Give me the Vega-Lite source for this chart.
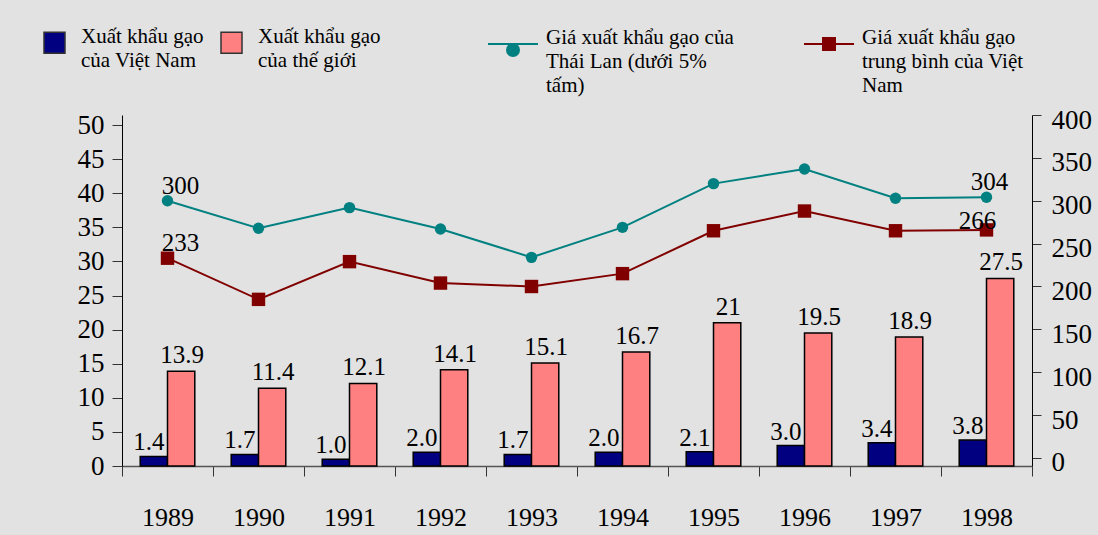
{
  "$schema": "https://vega.github.io/schema/vega-lite/v6.json",
  "width": 910,
  "height": 351,
  "autosize": {"type": "none"},
  "padding": {"left": 122, "top": 115, "right": 66, "bottom": 69},
  "background": "#e2e2e2",
  "config": {
    "view": {"stroke": null},
    "font": "Liberation Serif",
    "text": {"font": "Liberation Serif"}
  },
  "datasets": {
    "bars": [
      {"year": "1989", "series": "Xuất khẩu gạo\ncủa Việt Nam", "value": 1.4, "label": "1.4"},
      {"year": "1990", "series": "Xuất khẩu gạo\ncủa Việt Nam", "value": 1.7, "label": "1.7"},
      {"year": "1991", "series": "Xuất khẩu gạo\ncủa Việt Nam", "value": 1.0, "label": "1.0"},
      {"year": "1992", "series": "Xuất khẩu gạo\ncủa Việt Nam", "value": 2.0, "label": "2.0"},
      {"year": "1993", "series": "Xuất khẩu gạo\ncủa Việt Nam", "value": 1.7, "label": "1.7"},
      {"year": "1994", "series": "Xuất khẩu gạo\ncủa Việt Nam", "value": 2.0, "label": "2.0"},
      {"year": "1995", "series": "Xuất khẩu gạo\ncủa Việt Nam", "value": 2.1, "label": "2.1"},
      {"year": "1996", "series": "Xuất khẩu gạo\ncủa Việt Nam", "value": 3.0, "label": "3.0"},
      {"year": "1997", "series": "Xuất khẩu gạo\ncủa Việt Nam", "value": 3.4, "label": "3.4"},
      {"year": "1998", "series": "Xuất khẩu gạo\ncủa Việt Nam", "value": 3.8, "label": "3.8"},
      {"year": "1989", "series": "Xuất khẩu gạo\ncủa thế giới", "value": 13.9, "label": "13.9"},
      {"year": "1990", "series": "Xuất khẩu gạo\ncủa thế giới", "value": 11.4, "label": "11.4"},
      {"year": "1991", "series": "Xuất khẩu gạo\ncủa thế giới", "value": 12.1, "label": "12.1"},
      {"year": "1992", "series": "Xuất khẩu gạo\ncủa thế giới", "value": 14.1, "label": "14.1"},
      {"year": "1993", "series": "Xuất khẩu gạo\ncủa thế giới", "value": 15.1, "label": "15.1"},
      {"year": "1994", "series": "Xuất khẩu gạo\ncủa thế giới", "value": 16.7, "label": "16.7"},
      {"year": "1995", "series": "Xuất khẩu gạo\ncủa thế giới", "value": 21, "label": "21"},
      {"year": "1996", "series": "Xuất khẩu gạo\ncủa thế giới", "value": 19.5, "label": "19.5"},
      {"year": "1997", "series": "Xuất khẩu gạo\ncủa thế giới", "value": 18.9, "label": "18.9"},
      {"year": "1998", "series": "Xuất khẩu gạo\ncủa thế giới", "value": 27.5, "label": "27.5"}
    ],
    "lines": [
      {"year": "1989", "series": "Giá xuất khẩu gạo của\nThái Lan (dưới 5%\ntấm)", "price": 300},
      {"year": "1990", "series": "Giá xuất khẩu gạo của\nThái Lan (dưới 5%\ntấm)", "price": 268},
      {"year": "1991", "series": "Giá xuất khẩu gạo của\nThái Lan (dưới 5%\ntấm)", "price": 292},
      {"year": "1992", "series": "Giá xuất khẩu gạo của\nThái Lan (dưới 5%\ntấm)", "price": 267},
      {"year": "1993", "series": "Giá xuất khẩu gạo của\nThái Lan (dưới 5%\ntấm)", "price": 234},
      {"year": "1994", "series": "Giá xuất khẩu gạo của\nThái Lan (dưới 5%\ntấm)", "price": 269},
      {"year": "1995", "series": "Giá xuất khẩu gạo của\nThái Lan (dưới 5%\ntấm)", "price": 320},
      {"year": "1996", "series": "Giá xuất khẩu gạo của\nThái Lan (dưới 5%\ntấm)", "price": 337},
      {"year": "1997", "series": "Giá xuất khẩu gạo của\nThái Lan (dưới 5%\ntấm)", "price": 303},
      {"year": "1998", "series": "Giá xuất khẩu gạo của\nThái Lan (dưới 5%\ntấm)", "price": 304},
      {"year": "1989", "series": "Giá xuất khẩu gạo\ntrung bình của Việt\nNam", "price": 233},
      {"year": "1990", "series": "Giá xuất khẩu gạo\ntrung bình của Việt\nNam", "price": 185},
      {"year": "1991", "series": "Giá xuất khẩu gạo\ntrung bình của Việt\nNam", "price": 229},
      {"year": "1992", "series": "Giá xuất khẩu gạo\ntrung bình của Việt\nNam", "price": 204},
      {"year": "1993", "series": "Giá xuất khẩu gạo\ntrung bình của Việt\nNam", "price": 200},
      {"year": "1994", "series": "Giá xuất khẩu gạo\ntrung bình của Việt\nNam", "price": 215},
      {"year": "1995", "series": "Giá xuất khẩu gạo\ntrung bình của Việt\nNam", "price": 265},
      {"year": "1996", "series": "Giá xuất khẩu gạo\ntrung bình của Việt\nNam", "price": 288},
      {"year": "1997", "series": "Giá xuất khẩu gạo\ntrung bình của Việt\nNam", "price": 265},
      {"year": "1998", "series": "Giá xuất khẩu gạo\ntrung bình của Việt\nNam", "price": 266}
    ]
  },
  "encoding": {
    "x": {
      "field": "year",
      "type": "nominal",
      "scale": {"paddingInner": 0, "paddingOuter": 0},
      "axis": {
        "title": null,
        "labelAngle": 0,
        "labelFont": "Liberation Serif",
        "labelFontSize": 26,
        "labelColor": "#000000",
        "labelPadding": 28,
        "tickBand": "extent",
        "tickSize": 10,
        "tickColor": "#333333",
        "domainColor": "#555555",
        "domainWidth": 1.5
      }
    }
  },
  "layer": [
    {
      "data": {"name": "bars"},
      "encoding": {
        "xOffset": {
          "field": "series",
          "type": "nominal",
          "scale": {"domain": ["Xuất khẩu gạo\ncủa Việt Nam", "Xuất khẩu gạo\ncủa thế giới"], "paddingInner": 0, "paddingOuter": 0.667}
        },
        "y": {
          "field": "value",
          "type": "quantitative",
          "scale": {"domain": [0, 51.47], "nice": false, "zero": true},
          "axis": {
            "orient": "left",
            "title": null,
            "values": [0, 5, 10, 15, 20, 25, 30, 35, 40, 45, 50],
            "grid": false,
            "labelFont": "Liberation Serif",
            "labelFontSize": 27,
            "labelColor": "#000000",
            "labelPadding": 8,
            "tickSize": 10,
            "tickColor": "#333333",
            "domainColor": "#000000"
          }
        }
      },
      "layer": [
        {
          "mark": {"type": "bar", "stroke": "#000000", "strokeWidth": 1.5},
          "encoding": {
            "fill": {
              "field": "series",
              "type": "nominal",
              "scale": {"domain": ["Xuất khẩu gạo\ncủa Việt Nam", "Xuất khẩu gạo\ncủa thế giới"], "range": ["#000080", "#ff8080"]},
              "legend": {
                "title": null,
                "orient": "none",
                "legendX": -79,
                "legendY": -84,
                "direction": "horizontal",
                "columns": 2,
                "columnPadding": 14,
                "padding": 0,
                "symbolType": "square",
                "symbolSize": 441,
                "symbolStrokeColor": "#333333",
                "symbolStrokeWidth": 1.5,
                "labelOffset": 15,
                "labelFont": "Liberation Serif",
                "labelFontSize": 21,
                "labelColor": "#000000",
                "labelLimit": 400,
                "labelBaseline": "top",
                "labelExpr": "split(datum.label, '\\n')",
                "encode": {"labels": {"update": {"lineHeight": {"value": 24}, "dy": {"value": -17}}}}
              }
            }
          }
        },
        {
          "transform": [{"filter": "indexof(datum.series, 'Việt Nam') >= 0"}],
          "mark": {"type": "text", "font": "Liberation Serif", "fontSize": 25, "baseline": "alphabetic", "dx": -5, "dy": -6, "color": "#000000"},
          "encoding": {"text": {"field": "label"}}
        },
        {
          "transform": [{"filter": "indexof(datum.series, 'giới') >= 0"}],
          "mark": {"type": "text", "font": "Liberation Serif", "fontSize": 25, "baseline": "alphabetic", "dx": 1, "dy": -8, "color": "#000000"},
          "encoding": {"text": {"field": "label"}}
        }
      ]
    },
    {
      "data": {"name": "lines"},
      "encoding": {
        "y": {
          "field": "price",
          "type": "quantitative",
          "scale": {"domain": [-9.33, 400], "nice": false, "zero": false},
          "axis": {
            "orient": "right",
            "title": null,
            "values": [0, 50, 100, 150, 200, 250, 300, 350, 400],
            "grid": false,
            "labelFont": "Liberation Serif",
            "labelFontSize": 27,
            "labelColor": "#000000",
            "labelPadding": 10,
            "labelOffset": 5,
            "tickSize": 9,
            "tickColor": "#333333",
            "domainColor": "#000000"
          }
        }
      },
      "layer": [
        {
          "mark": {"type": "line", "strokeWidth": 2},
          "encoding": {
            "stroke": {
              "field": "series",
              "type": "nominal",
              "scale": {"domain": ["Giá xuất khẩu gạo của\nThái Lan (dưới 5%\ntấm)", "Giá xuất khẩu gạo\ntrung bình của Việt\nNam"], "range": ["#008080", "#800000"]},
              "legend": {
                "title": null,
                "orient": "none",
                "legendX": 365,
                "legendY": -97,
                "direction": "horizontal",
                "columns": 2,
                "columnPadding": 66,
                "padding": 0,
                "symbolSize": 2500,
                "symbolStrokeWidth": 2,
                "labelOffset": 7,
                "labelFont": "Liberation Serif",
                "labelFontSize": 21,
                "labelColor": "#000000",
                "labelLimit": 400,
                "labelBaseline": "top",
                "labelExpr": "split(datum.label, '\\n')",
                "encode": {
                  "symbols": {
                    "update": {
                      "shape": {"signal": "indexof(datum.value, 'Thái') >= 0 ? 'M-1,0H1M-0.24,0.24A0.24,0.24,0,1,0,0.24,0.24A0.24,0.24,0,1,0,-0.24,0.24Z' : 'M-1,0H1M-0.24,-0.24H0.24V0.24H-0.24Z'"},
                      "fill": {"signal": "indexof(datum.value, 'Thái') >= 0 ? '#008080' : '#800000'"},
                      "opacity": {"value": 1}
                    }
                  },
                  "labels": {"update": {"lineHeight": {"value": 24}, "dy": {"value": -17}}}
                }
              }
            }
          }
        },
        {
          "transform": [{"filter": "indexof(datum.series, 'Thái') >= 0"}],
          "mark": {"type": "point", "filled": true, "opacity": 1, "shape": "circle", "color": "#008080", "size": 130},
          "encoding": {}
        },
        {
          "transform": [{"filter": "indexof(datum.series, 'Việt') >= 0"}],
          "mark": {"type": "point", "filled": true, "opacity": 1, "shape": "square", "color": "#800000", "size": 180},
          "encoding": {}
        },
        {
          "transform": [{"filter": "datum.year == '1989'"}],
          "mark": {"type": "text", "font": "Liberation Serif", "fontSize": 25, "baseline": "alphabetic", "dx": 13, "dy": -7, "color": "#000000"},
          "encoding": {"text": {"field": "price"}}
        },
        {
          "transform": [{"filter": "datum.year == '1998' && indexof(datum.series, 'Thái') >= 0"}],
          "mark": {"type": "text", "font": "Liberation Serif", "fontSize": 25, "baseline": "alphabetic", "dx": 3, "dy": -7, "color": "#000000"},
          "encoding": {"text": {"field": "price"}}
        },
        {
          "transform": [{"filter": "datum.year == '1998' && indexof(datum.series, 'Việt') >= 0"}],
          "mark": {"type": "text", "font": "Liberation Serif", "fontSize": 25, "baseline": "alphabetic", "dx": -9, "dy": -1, "color": "#000000"},
          "encoding": {"text": {"field": "price"}}
        }
      ]
    }
  ],
  "resolve": {"scale": {"y": "independent"}, "axis": {"y": "independent"}}
}
